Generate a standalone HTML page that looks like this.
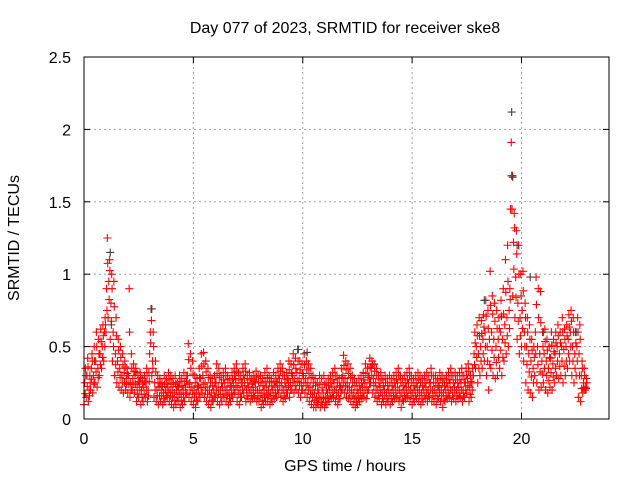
<!DOCTYPE html>
<html><head><meta charset="utf-8"><style>
body{margin:0;background:#fff}
svg{display:block;font-family:"Liberation Sans",sans-serif}
</style></head><body>
<svg id="chart" width="640" height="480">
<text x="345" y="33" text-anchor="middle" font-size="16">Day 077 of 2023, SRMTID for receiver ske8</text>
<text x="345" y="471" text-anchor="middle" font-size="16">GPS time / hours</text>
<text transform="translate(19,238) rotate(-90)" text-anchor="middle" font-size="16">SRMTID / TECUs</text>
<g id="grid"></g><g id="ticks"></g><g id="marks"></g>
<rect x="84" y="57" width="525" height="362" fill="none" stroke="#000" stroke-width="1"/>
</svg>
<script>
const xTicks=[0,5,10,15,20];
const yTicks=[0,0.5,1,1.5,2,2.5];
const yTickLabels=["0","0.5","1","1.5","2","2.5"];
const startHour=0, stepHour=0.1;
const seriesHigh=[0.35,0.42,0.3,0.45,0.5,0.6,0.55,0.62,0.65,0.7,
1.25,1.1,1.0,0.95,0.7,0.55,0.5,0.45,0.4,0.35,
0.9,0.45,0.38,0.35,0.3,0.32,0.28,0.3,0.35,0.32,
0.76,0.6,0.4,0.3,0.28,0.25,0.3,0.28,0.32,0.3,
0.28,0.3,0.25,0.3,0.28,0.32,0.3,0.52,0.45,0.4,
0.3,0.28,0.35,0.45,0.46,0.4,0.35,0.3,0.28,0.3,
0.38,0.35,0.3,0.32,0.35,0.3,0.28,0.32,0.35,0.38,
0.32,0.3,0.35,0.38,0.3,0.32,0.28,0.3,0.33,0.3,
0.3,0.28,0.32,0.35,0.3,0.28,0.32,0.3,0.35,0.38,
0.35,0.3,0.32,0.4,0.38,0.45,0.42,0.48,0.4,0.38,
0.45,0.4,0.38,0.35,0.3,0.28,0.25,0.3,0.28,0.3,
0.25,0.28,0.3,0.32,0.35,0.3,0.28,0.35,0.44,0.4,
0.38,0.35,0.3,0.28,0.25,0.28,0.3,0.32,0.38,0.35,
0.42,0.4,0.38,0.35,0.3,0.32,0.28,0.3,0.28,0.3,
0.28,0.3,0.32,0.35,0.3,0.28,0.3,0.32,0.35,0.3,
0.28,0.3,0.32,0.3,0.28,0.3,0.32,0.3,0.35,0.3,
0.3,0.28,0.32,0.3,0.28,0.3,0.32,0.35,0.3,0.32,
0.3,0.32,0.35,0.3,0.35,0.38,0.3,0.35,0.6,0.65,
0.7,0.68,0.72,0.82,0.75,1.02,0.85,0.8,0.75,0.7,
0.82,0.9,1.1,1.2,0.9,1.45,1.42,1.3,1.2,1.0,
1.02,0.8,0.7,0.65,0.55,0.5,0.98,0.9,0.88,0.6,
0.62,0.55,0.5,0.6,0.55,0.6,0.65,0.6,0.7,0.62,
0.65,0.72,0.75,0.7,0.6,0.7,0.65,0.4,0.35,0.28];
const seriesMid=[0.25,0.3,0.2,0.35,0.3,0.4,0.35,0.45,0.5,0.6,
0.9,0.95,0.8,0.6,0.45,0.4,0.35,0.3,0.32,0.28,
0.3,0.25,0.28,0.3,0.22,0.25,0.2,0.22,0.25,0.2,
0.6,0.4,0.25,0.2,0.22,0.2,0.18,0.2,0.22,0.2,
0.2,0.18,0.2,0.22,0.18,0.2,0.22,0.3,0.25,0.22,
0.2,0.18,0.22,0.28,0.3,0.25,0.22,0.2,0.18,0.2,
0.25,0.22,0.2,0.22,0.25,0.2,0.18,0.22,0.25,0.28,
0.22,0.2,0.25,0.28,0.2,0.22,0.2,0.22,0.25,0.2,
0.2,0.18,0.2,0.22,0.2,0.18,0.2,0.22,0.25,0.28,
0.25,0.2,0.22,0.28,0.25,0.3,0.28,0.32,0.28,0.25,
0.3,0.28,0.25,0.22,0.2,0.18,0.15,0.18,0.15,0.18,
0.15,0.18,0.2,0.22,0.25,0.2,0.18,0.22,0.3,0.28,
0.25,0.22,0.2,0.18,0.15,0.18,0.2,0.22,0.25,0.22,
0.3,0.35,0.28,0.25,0.2,0.22,0.18,0.2,0.18,0.2,
0.18,0.2,0.22,0.25,0.2,0.18,0.2,0.22,0.25,0.2,
0.18,0.2,0.22,0.2,0.18,0.2,0.22,0.2,0.25,0.2,
0.2,0.18,0.22,0.2,0.18,0.2,0.22,0.25,0.2,0.22,
0.2,0.22,0.25,0.2,0.25,0.28,0.22,0.25,0.45,0.5,
0.45,0.5,0.55,0.6,0.5,0.55,0.6,0.55,0.5,0.55,
0.6,0.55,0.65,0.7,0.75,1.91,1.22,0.98,0.8,0.7,
0.75,0.6,0.5,0.45,0.4,0.35,0.6,0.5,0.45,0.4,
0.45,0.4,0.35,0.42,0.38,0.45,0.5,0.45,0.5,0.48,
0.5,0.55,0.6,0.5,0.45,0.5,0.45,0.3,0.25,0.22];
const seriesLow=[0.1,0.15,0.12,0.2,0.18,0.25,0.22,0.3,0.35,0.4,
0.6,0.7,0.55,0.4,0.3,0.25,0.22,0.2,0.18,0.2,
0.18,0.15,0.2,0.18,0.12,0.15,0.1,0.12,0.15,0.12,
0.45,0.3,0.15,0.12,0.1,0.12,0.1,0.12,0.15,0.12,
0.1,0.08,0.1,0.12,0.08,0.1,0.12,0.18,0.15,0.12,
0.1,0.08,0.12,0.15,0.18,0.15,0.12,0.1,0.08,0.12,
0.15,0.12,0.1,0.12,0.15,0.12,0.1,0.12,0.15,0.18,
0.12,0.1,0.15,0.18,0.12,0.14,0.12,0.14,0.15,0.12,
0.12,0.08,0.1,0.12,0.12,0.1,0.12,0.14,0.15,0.18,
0.15,0.12,0.14,0.18,0.15,0.2,0.18,0.2,0.18,0.15,
0.2,0.18,0.15,0.12,0.1,0.08,0.08,0.1,0.08,0.1,
0.08,0.1,0.12,0.14,0.15,0.12,0.1,0.14,0.2,0.18,
0.15,0.14,0.12,0.1,0.08,0.1,0.12,0.14,0.15,0.14,
0.2,0.25,0.18,0.15,0.12,0.14,0.1,0.12,0.1,0.12,
0.1,0.12,0.14,0.15,0.12,0.08,0.12,0.14,0.15,0.12,
0.1,0.12,0.14,0.12,0.1,0.12,0.14,0.12,0.15,0.12,
0.12,0.1,0.14,0.12,0.08,0.12,0.14,0.15,0.12,0.14,
0.12,0.14,0.15,0.12,0.15,0.18,0.12,0.15,0.3,0.35,
0.25,0.3,0.35,0.4,0.3,0.2,0.35,0.3,0.28,0.3,
0.35,0.3,0.4,0.45,0.5,1.45,0.85,0.7,0.55,0.45,
0.5,0.4,0.25,0.2,0.18,0.15,0.3,0.25,0.2,0.22,
0.25,0.2,0.18,0.22,0.2,0.25,0.3,0.28,0.3,0.25,
0.3,0.35,0.4,0.3,0.25,0.3,0.15,0.12,0.18,0.2];
const grayHours=[1.2,1.25,3.1,9.8,10.2,18.3,19.55,19.6,19.8,20.4,21.0,22.5];
const grayValues=[1.15,0.65,0.76,0.48,0.46,0.82,2.12,1.67,1.2,0.98,0.6,0.6];

const X0=84,X1=609,Y0=419,Y1=57,XMAX=24,YMAX=2.5;
function xs(h){return X0+(X1-X0)*h/XMAX;}
function ys(v){return Y0-(Y0-Y1)*v/YMAX;}
const NS="http://www.w3.org/2000/svg";
const grid=document.getElementById('grid'),ticks=document.getElementById('ticks'),marks=document.getElementById('marks');
function mk(tag,attrs,parent){const e=document.createElementNS(NS,tag);for(const k in attrs)e.setAttribute(k,attrs[k]);parent.appendChild(e);return e;}
xTicks.forEach(t=>{
  const x=xs(t);
  if(t>0){const g=mk('line',{x1:x,x2:x,y1:Y1,y2:Y0,stroke:'#a0a0a0','stroke-dasharray':'2,3'},grid);
  
  }
  mk('line',{x1:x,x2:x,y1:Y0,y2:Y0-6,stroke:'#000'},ticks);
  mk('line',{x1:x,x2:x,y1:Y1,y2:Y1+6,stroke:'#000'},ticks);
  const l=mk('text',{x:x,y:Y0+25,'text-anchor':'middle','font-size':16},ticks);
  l.textContent=String(t);
  
  
});
yTicks.forEach((t,i)=>{
  const y=ys(t);
  if(t>0&&t<YMAX){const g=mk('line',{x1:X0,x2:X1,y1:y,y2:y,stroke:'#a0a0a0','stroke-dasharray':'2,3'},grid);
  
  }
  mk('line',{x1:X0,x2:X0+6,y1:y,y2:y,stroke:'#000'},ticks);
  mk('line',{x1:X1,x2:X1-6,y1:y,y2:y,stroke:'#000'},ticks);
  const l=mk('text',{x:X0-13,y:y+6,'text-anchor':'end','font-size':16},ticks);
  l.textContent=yTickLabels[i];
  
  
});
function plus(h,v,color){
  const x=xs(h),y=ys(v);
  const p=mk('path',{d:`M${x-4},${y}H${x+4}M${x},${y-4}V${y+4}`,stroke:color,'stroke-width':1.1,fill:'none'},marks);
  
  
}
[[seriesLow,0],[seriesMid,0.033],[seriesHigh,0.066]].forEach(([arr,off])=>{
  arr.forEach((v,i)=>plus(startHour+i*stepHour+off,v,'#ff0000'));
});
// in-between fill points (interpolated between adjacent bands) to increase density
seriesLow.forEach((v,i)=>{
  plus(startHour+i*stepHour+0.05,(v+seriesMid[i])/2,'#ff0000');
  plus(startHour+i*stepHour+0.083,(seriesMid[i]+seriesHigh[i])/2,'#ff0000');
});
grayHours.forEach((h,i)=>plus(h,grayValues[i],'#404040'));
</script>
</body></html>
